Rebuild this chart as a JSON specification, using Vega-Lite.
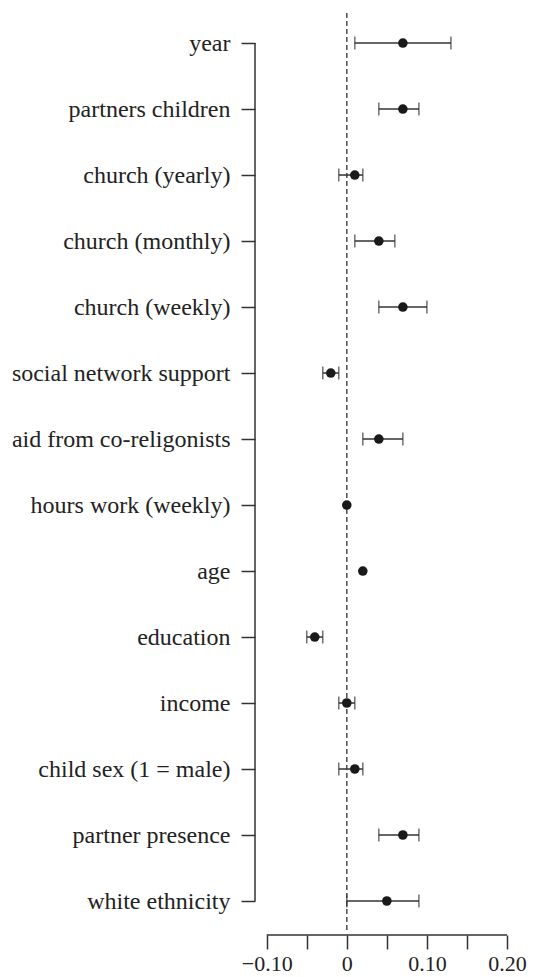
{
  "$schema": "https://vega.github.io/schema/vega-lite/v6.json",
  "autosize": "none",
  "padding": {"left": 255, "top": 13, "right": 34, "bottom": 42},
  "width": 252,
  "height": 922,
  "background": "white",
  "config": {"view": {"stroke": null}, "font": "Liberation Serif"},
  "data": {"values": [
    {"idx": 1, "term": "year", "est": 0.07, "lo": 0.01, "hi": 0.13},
    {"idx": 2, "term": "partners children", "est": 0.07, "lo": 0.04, "hi": 0.09},
    {"idx": 3, "term": "church (yearly)", "est": 0.01, "lo": -0.01, "hi": 0.02},
    {"idx": 4, "term": "church (monthly)", "est": 0.04, "lo": 0.01, "hi": 0.06},
    {"idx": 5, "term": "church (weekly)", "est": 0.07, "lo": 0.04, "hi": 0.10},
    {"idx": 6, "term": "social network support", "est": -0.02, "lo": -0.03, "hi": -0.01},
    {"idx": 7, "term": "aid from co-religonists", "est": 0.04, "lo": 0.02, "hi": 0.07},
    {"idx": 8, "term": "hours work (weekly)", "est": 0.0, "lo": null, "hi": null},
    {"idx": 9, "term": "age", "est": 0.02, "lo": null, "hi": null},
    {"idx": 10, "term": "education", "est": -0.04, "lo": -0.05, "hi": -0.03},
    {"idx": 11, "term": "income", "est": 0.0, "lo": -0.01, "hi": 0.01},
    {"idx": 12, "term": "child sex (1 = male)", "est": 0.01, "lo": -0.01, "hi": 0.02},
    {"idx": 13, "term": "partner presence", "est": 0.07, "lo": 0.04, "hi": 0.09},
    {"idx": 14, "term": "white ethnicity", "est": 0.05, "lo": 0.0, "hi": 0.09}
  ]},
  "layer": [
    {
      "data": {"values": [{}]},
      "mark": {"type": "rule", "color": "#555", "strokeWidth": 1.6, "strokeDash": [5, 3]},
      "encoding": {
        "x": {
          "datum": 0, "type": "quantitative",
          "scale": {"domain": [-0.1146, 0.2], "nice": false, "zero": false},
          "axis": {
            "title": null, "domain": false, "grid": false,
            "values": [-0.1, -0.05, 0, 0.05, 0.1, 0.15, 0.2],
            "tickSize": 14, "tickWidth": 1.5, "tickColor": "#333",
            "labelPadding": 4, "labelFontSize": 22, "labelColor": "#222",
            "labelFont": "Liberation Serif", "labelOverlap": false, "labelFlush": false,
            "labelExpr": "round(datum.value * 100) % 10 != 0 ? '' : (datum.value == 0 ? '0' : replace(format(datum.value, '.2f'), '-', '\u2212'))"
          }
        },
        "y": {
          "datum": 0.545, "type": "quantitative",
          "scale": {"domain": [0.545, 14.515], "reverse": true, "nice": false, "zero": false},
          "axis": {
            "title": null, "domain": false, "grid": false,
            "values": [1,2,3,4,5,6,7,8,9,10,11,12,13,14],
            "tickSize": 14, "tickWidth": 1.5, "tickColor": "#333",
            "labelPadding": 11, "labelFontSize": 24, "labelColor": "#222",
            "labelFont": "Liberation Serif", "labelLimit": 400,
            "labelExpr": "['year','partners children','church (yearly)','church (monthly)','church (weekly)','social network support','aid from co-religonists','hours work (weekly)','age','education','income','child sex (1 = male)','partner presence','white ethnicity'][datum.value - 1]"
          }
        },
        "y2": {"datum": 14.485}
      }
    },
    {
      "data": {"values": [{}]},
      "mark": {"type": "rule", "color": "#333", "strokeWidth": 1.5},
      "encoding": {"x": {"datum": -0.1146}, "y": {"datum": 1}, "y2": {"datum": 14}}
    },
    {
      "data": {"values": [{}]},
      "mark": {"type": "rule", "color": "#333", "strokeWidth": 1.5},
      "encoding": {"x": {"datum": -0.1}, "x2": {"datum": 0.2}, "y": {"datum": 14.515}}
    },
    {
      "transform": [{"filter": "isValid(datum.lo)"}],
      "mark": {"type": "rule", "color": "#333", "strokeWidth": 1.5},
      "encoding": {"x": {"field": "lo", "type": "quantitative"}, "x2": {"field": "hi"}, "y": {"field": "idx", "type": "quantitative"}}
    },
    {
      "transform": [{"filter": "isValid(datum.lo)"}],
      "mark": {"type": "tick", "orient": "vertical", "color": "#333", "size": 13, "thickness": 1.5},
      "encoding": {"x": {"field": "lo", "type": "quantitative"}, "y": {"field": "idx", "type": "quantitative"}}
    },
    {
      "transform": [{"filter": "isValid(datum.hi)"}],
      "mark": {"type": "tick", "orient": "vertical", "color": "#333", "size": 13, "thickness": 1.5},
      "encoding": {"x": {"field": "hi", "type": "quantitative"}, "y": {"field": "idx", "type": "quantitative"}}
    },
    {
      "mark": {"type": "circle", "color": "#1a1a1a", "opacity": 1, "size": 92},
      "encoding": {"x": {"field": "est", "type": "quantitative"}, "y": {"field": "idx", "type": "quantitative"}}
    }
  ]
}
